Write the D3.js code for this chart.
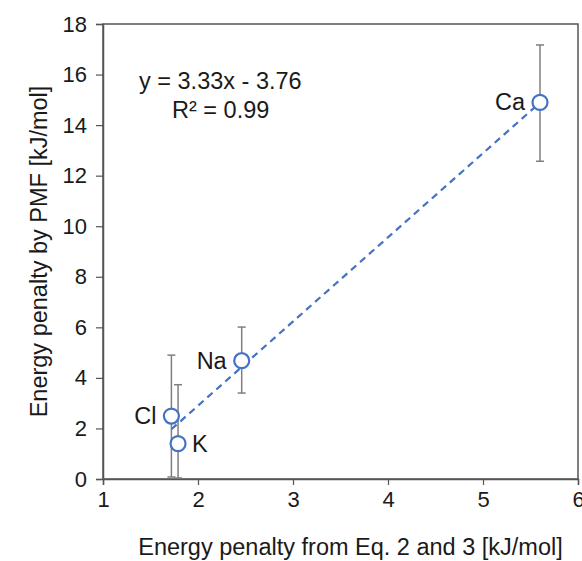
<!DOCTYPE html>
<html>
<head>
<meta charset="utf-8">
<script src="https://cdn.jsdelivr.net/npm/d3@7"></script>
<style>
  body { margin: 0; background: #fff; }
  text { font-family: Arial, "Liberation Sans", sans-serif; fill: #1a1a1a; }
</style>
</head>
<body>
<div id="chart"></div>
<script>
// ions and their values
const ions = ['Cl', 'K', 'Na', 'Ca'];
const eqPenalty = [1.72, 1.79, 2.46, 5.60];
const pmfPenalty = [2.49, 1.40, 4.68, 14.90];
const errLow = [2.41, 1.36, 1.28, 2.33];
const errHigh = [2.41, 2.33, 1.33, 2.27];
const xTicks = [1, 2, 3, 4, 5, 6];
const yTicks = [0, 2, 4, 6, 8, 10, 12, 14, 16, 18];
const fitSlope = 3.33, fitIntercept = -3.76;

const width = 582, height = 561;
const margin = {top: 24, right: 4, bottom: 82, left: 103};
const fontSize = '23.5px';

const svg = d3.select('#chart').append('svg')
    .attr('width', width)
    .attr('height', height);

const x = d3.scaleLinear().domain([1, 6]).range([margin.left, width - margin.right]);
const y = d3.scaleLinear().domain([0, 18]).range([height - margin.bottom, margin.top]);

// frame
svg.append('rect')
    .attr('x', x(1)).attr('y', y(18))
    .attr('width', x(6) - x(1)).attr('height', y(0) - y(18))
    .attr('fill', 'none').attr('stroke', '#555').attr('stroke-width', 1.5);

// axes
const xAxis = svg.append('g')
    .attr('transform', `translate(0,${y(0)})`)
    .call(d3.axisBottom(x).tickValues(xTicks).tickFormat(d3.format('d')).tickSize(6).tickPadding(6));
const yAxis = svg.append('g')
    .attr('transform', `translate(${x(1)},0)`)
    .call(d3.axisLeft(y).tickValues(yTicks).tickSize(7).tickPadding(9));
[xAxis, yAxis].forEach(g => {
    g.select('.domain').attr('stroke', '#555').attr('stroke-width', 1.5);
    g.selectAll('.tick line').attr('stroke', '#555').attr('stroke-width', 1.2);
    g.selectAll('.tick text').style('font-size', '22px').attr('fill', '#1a1a1a')
        .style('font-family', 'Arial, "Liberation Sans", sans-serif');
});

// axis titles
svg.append('text')
    .attr('x', (x(1) + x(6)) / 2 + 10).attr('y', 555)
    .attr('text-anchor', 'middle')
    .style('font-size', fontSize)
    .text('Energy penalty from Eq. 2 and 3 [kJ/mol]');
svg.append('text')
    .attr('transform', `translate(47,${(y(0) + y(18)) / 2}) rotate(-90)`)
    .attr('text-anchor', 'middle')
    .style('font-size', fontSize)
    .text('Energy penalty by PMF [kJ/mol]');

// trendline
const xMin = d3.min(eqPenalty), xMax = d3.max(eqPenalty);
svg.append('line')
    .attr('x1', x(xMin)).attr('y1', y(fitSlope * xMin + fitIntercept))
    .attr('x2', x(xMax)).attr('y2', y(fitSlope * xMax + fitIntercept))
    .attr('stroke', '#4472C4').attr('stroke-width', 2.2)
    .attr('stroke-dasharray', '7,5');

const data = ions.map((ion, i) => ({ion, x: eqPenalty[i], y: pmfPenalty[i], lo: errLow[i], hi: errHigh[i]}));

// error bars
const eb = svg.append('g').attr('stroke', '#7f7f7f').attr('stroke-width', 1.5);
data.forEach(d => {
    eb.append('line')
        .attr('x1', x(d.x)).attr('x2', x(d.x))
        .attr('y1', y(d.y - d.lo)).attr('y2', y(d.y + d.hi));
    [d.y - d.lo, d.y + d.hi].forEach(v => {
        eb.append('line')
            .attr('x1', x(d.x) - 4).attr('x2', x(d.x) + 4)
            .attr('y1', y(v)).attr('y2', y(v));
    });
});

// markers
svg.selectAll('circle.pt')
    .data(data)
    .enter()
    .append('circle')
    .attr('class', 'pt')
    .attr('cx', d => x(d.x))
    .attr('cy', d => y(d.y))
    .attr('r', 7.5)
    .attr('fill', '#fff')
    .attr('stroke', '#4472C4')
    .attr('stroke-width', 2.2);

// point labels
const labelPos = {Cl: {dx: -15, anchor: 'end'}, K: {dx: 14, anchor: 'start'},
    Na: {dx: -15, anchor: 'end'}, Ca: {dx: -15, anchor: 'end'}};
svg.selectAll('text.lbl')
    .data(data)
    .enter()
    .append('text')
    .attr('class', 'lbl')
    .attr('x', d => x(d.x) + labelPos[d.ion].dx)
    .attr('y', d => y(d.y) + 8)
    .attr('text-anchor', d => labelPos[d.ion].anchor)
    .style('font-size', fontSize)
    .text(d => d.ion);

// equation
svg.append('text')
    .attr('x', 139).attr('y', 89)
    .style('font-size', fontSize)
    .text('y = 3.33x - 3.76');
svg.append('text')
    .attr('x', 172).attr('y', 118)
    .style('font-size', fontSize)
    .text('R² = 0.99');
</script>
</body>
</html>
